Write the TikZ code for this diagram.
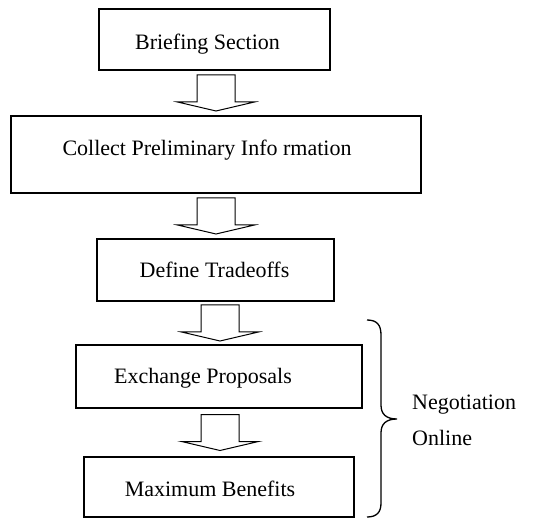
\documentclass[tikz,border=0pt]{standalone}
\usepackage{fontspec}
\setmainfont{Liberation Serif}
\usetikzlibrary{calc}

% hollow block arrow between two stacked boxes, axis at x = #3 (pt)
\newcommand\flowarrow[4]{%
  \path let \p1=($(#1.south)!.5!(#2.north)$) in coordinate (#4) at (#3pt,\y1);
  \draw[blockarrow] ([shift={(-19,-18)}]#4) -- ++(0,27) -- ++(-19.5,0)
    -- ++(38.5,9) -- ++(38.5,-9) -- ++(-19.5,0) -- ++(0,-27) -- cycle;
}

\begin{document}
\begin{tikzpicture}[x=1pt,y=-1pt,
  stepbox/.style={draw, line width=1.2pt, inner sep=0pt},
  steptext/.style={anchor=base, inner sep=0pt, font=\fontsize{22}{26}\selectfont},
  blockarrow/.style={draw, line width=1pt, line join=miter},
  bracetext/.style={anchor=base west, inner sep=0pt, font=\fontsize{22}{26}\selectfont},
  bracepath/.style={draw, line width=1.3pt}]

\useasboundingbox (0,0) rectangle (554,518);

% process steps
\node[stepbox, minimum width=231pt, minimum height=61pt] (b1) at (214.5,39.5) {};
\node[steptext] (t1) at ([shift={(-7,9.8)}]b1.center) {Briefing Section};

\node[stepbox, minimum width=410pt, minimum height=77pt] (b2) at (216,154.5) {};
\node[steptext] (t2) at ([shift={(-9,1.5)}]b2.center) {Collect Preliminary Info rmation};

\node[stepbox, minimum width=237pt, minimum height=62pt] (b3) at (215.5,270) {};
\node[steptext] (t3) at ([shift={(-1,7.7)}]b3.center) {Define Tradeoffs};

\node[stepbox, minimum width=286pt, minimum height=63pt] (b4) at (219,376.5) {};
\node[steptext] (t4) at ([shift={(-16,6.8)}]b4.center) {Exchange Proposals};

\node[stepbox, minimum width=270pt, minimum height=60pt] (b5) at (219,487) {};
\node[steptext] (t5) at ([shift={(-9,9)}]b5.center) {Maximum Benefits};

% block arrows
\flowarrow{b1}{b2}{216}{a1}
\flowarrow{b2}{b3}{216}{a2}
\flowarrow{b3}{b4}{220}{a3}
\flowarrow{b4}{b5}{220}{a4}

% brace grouping the online negotiation steps
\draw[bracepath] (367,320) .. controls (377,320) and (381,325) .. (381,335)
  -- (381,405) .. controls (381,414) and (386,419) .. (397,419)
  .. controls (386,419) and (381,424) .. (381,433)
  -- (381,503) .. controls (381,512) and (377,517) .. (367,517);

\node[bracetext] (n1) at (412,409) {Negotiation};
\node[bracetext] (n2) at (412,445) {Online};

\end{tikzpicture}
\end{document}
